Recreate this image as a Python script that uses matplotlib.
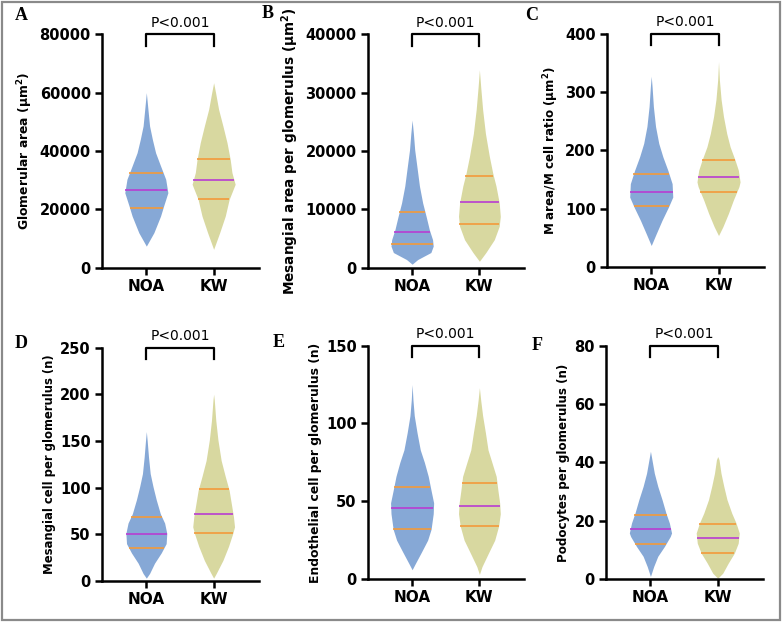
import numpy as np
import matplotlib
matplotlib.use("Agg")
import matplotlib.pyplot as plt
from matplotlib.patches import Rectangle

plt.rcParams["font.family"] = ["DejaVu Sans"]

groups = ["NOA", "KW"]
panel_letters = ["A", "B", "C", "D", "E", "F"]
ylabels = [
    "Glomerular area (μm$^\\mathbf{2}$)",
    "Mesangial area per glomerulus (μm$^\\mathbf{2}$)",
    "M area/M cell ratio (μm$^\\mathbf{2}$)",
    "Mesangial cell per glomerulus (n)",
    "Endothelial cell per glomerulus (n)",
    "Podocytes per glomerulus (n)",
]
ylabel_sizes = [8.9, 9.8, 8.6, 8.4, 8.9, 8.6]
ymax = [80000, 40000, 400, 250, 150, 80]
ysteps = [20000, 10000, 100, 50, 50, 20]

# violin outlines: levels and relative half-widths
a_noa_y = [7400, 12000, 17700, 21100, 25700, 30300, 34900, 39400, 44000, 48600, 53100, 60000]
a_noa_w = [0, .35, .66, .80, 1.0, .90, .66, .43, .28, .15, .09, 0]
a_kw_y = [6300, 12000, 17700, 23400, 28600, 32600, 37100, 42900, 48600, 54300, 60000, 63400]
a_kw_w = [0, .28, .54, .72, 1.0, .85, .77, .62, .43, .23, .09, 0]

b_noa_y = [600, 1400, 2600, 3700, 4800, 6500, 8800, 11100, 14000, 17400, 20200, 23000, 25300]
b_noa_w = [0, .26, .87, .98, .95, .80, .65, .49, .34, .22, .12, .06, 0]
b_kw_y = [1100, 2600, 4800, 7100, 8800, 11100, 14000, 16200, 19100, 23000, 27100, 31000, 33900]
b_kw_w = [0, .30, .69, .92, .97, .92, .77, .62, .46, .28, .15, .06, 0]

c_noa_y = [37, 57, 80, 103, 120, 143, 166, 189, 212, 241, 275, 309, 327]
c_noa_w = [0, .23, .50, .80, 1.0, .97, .77, .54, .35, .20, .10, .04, 0]
c_kw_y = [54, 69, 92, 115, 138, 146, 166, 183, 206, 229, 258, 287, 321, 352]
c_kw_w = [0, .20, .46, .69, .95, 1.0, .92, .77, .54, .38, .23, .12, .04, 0]

d_noa_y = [3, 8, 19, 30, 40, 51, 62, 72, 87, 101, 115, 133, 150, 160]
d_noa_w = [0, .15, .38, .69, .92, .95, .85, .65, .46, .31, .18, .10, .04, 0]
d_kw_y = [3, 8, 22, 37, 51, 58, 69, 83, 97, 112, 129, 151, 172, 194, 200]
d_kw_w = [0, .12, .43, .69, .89, .97, .92, .82, .72, .54, .35, .20, .10, .03, 0]

e_noa_y = [6, 10, 17, 25, 32, 42, 49, 57, 66, 75, 83, 94, 105, 115, 125]
e_noa_w = [0, .15, .42, .72, .88, .98, 1.0, .88, .75, .57, .38, .23, .10, .04, 0]
e_kw_y = [3, 8, 17, 25, 34, 42, 49, 57, 66, 75, 83, 94, 105, 115, 123]
e_kw_w = [0, .12, .43, .71, .89, .97, .94, .86, .78, .58, .40, .28, .15, .06, 0]

f_noa_y = [0.9, 4.3, 7.8, 11.2, 14.6, 15.8, 19.2, 22.6, 27.2, 31.8, 36.3, 40.9, 43.8]
f_noa_w = [0, .15, .34, .65, .92, .98, .88, .72, .54, .34, .18, .07, 0]
f_kw_y = [0.3, 2, 5.5, 8.9, 12.3, 15.8, 19.2, 22.6, 27.2, 31.8, 36.3, 40.9, 42]
f_kw_w = [0, .23, .49, .77, .95, 1.0, .85, .65, .43, .28, .15, .06, 0]

# quartiles [q1, median, q3] per panel, NOA then KW
quart_noa = [[20500, 26500, 32300], [4000, 6200, 9600], [104, 129, 159],
             [35, 50, 68], [32, 46, 59], [12, 17, 22]]
quart_kw = [[23400, 30000, 37300], [7500, 11200, 15800], [129, 155, 184],
            [51, 72, 99], [34, 47, 62], [9, 14, 19]]

profiles = [
    [(a_noa_y, a_noa_w), (a_kw_y, a_kw_w)],
    [(b_noa_y, b_noa_w), (b_kw_y, b_kw_w)],
    [(c_noa_y, c_noa_w), (c_kw_y, c_kw_w)],
    [(d_noa_y, d_noa_w), (d_kw_y, d_kw_w)],
    [(e_noa_y, e_noa_w), (e_kw_y, e_kw_w)],
    [(f_noa_y, f_noa_w), (f_kw_y, f_kw_w)],
]

fill_colors = ["#86A8D6", "#D8D8A0"]
quart_color = "#F39A3A"
median_color = "#B83CD2"
half_width = 0.32

# axes boxes in figure fractions
lefts = [0.130, 0.469, 0.774, 0.130, 0.469, 0.773]
bottoms = [0.571, 0.571, 0.572, 0.069, 0.072, 0.072]
width = 0.200
height = 0.374

# panel letter anchors (figure pixels from top-left)
letter_px = [(15, 15), (262, 14), (525, 15), (15, 343), (273, 342), (532, 345)]

W, H = 784, 624
fig = plt.figure(figsize=(W / 100, H / 100), dpi=100)

for i in range(6):
    ax = fig.add_axes([lefts[i], bottoms[i], width, height])
    for j, (yy, ww) in enumerate(profiles[i]):
        yy = np.asarray(yy, float)
        ww = np.asarray(ww, float) * half_width
        ax.fill_betweenx(yy, j - ww, j + ww, color=fill_colors[j], lw=0)
        qs = quart_noa[i] if j == 0 else quart_kw[i]
        for k, q in enumerate(qs):
            hw = np.interp(q, yy, ww)
            ax.plot([j - hw, j + hw], [q, q],
                    color=median_color if k == 1 else quart_color, lw=1.2,
                    solid_capstyle="butt")

    ax.set_xlim(-0.66, 1.67)
    ax.set_ylim(0, ymax[i])
    ax.set_yticks(np.arange(0, ymax[i] + 1, ysteps[i]))
    ax.set_xticks([0, 1])
    ax.set_xticklabels(groups)
    for s in ["top", "right"]:
        ax.spines[s].set_visible(False)
    for s in ["left", "bottom"]:
        ax.spines[s].set_linewidth(1.8)
    ax.tick_params(axis="both", width=1.8, length=5, pad=3)
    ax.tick_params(axis="y", labelsize=10.5)
    ax.tick_params(axis="x", labelsize=11)
    for lab in ax.get_xticklabels() + ax.get_yticklabels():
        lab.set_fontweight("bold")
    ax.set_ylabel(ylabels[i], fontsize=ylabel_sizes[i], fontweight="bold",
                  labelpad=3)

    # significance bracket
    top = ymax[i]
    drop = 0.05 * ymax[i]
    ax.plot([0, 0, 1, 1], [top - drop, top, top, top - drop], color="black",
            lw=1.6, clip_on=False)
    ax.text(0.5, top + 0.02 * ymax[i], "P<0.001", ha="center", va="bottom",
            fontsize=10)

    # panel letters
    lx, ly = letter_px[i]
    fig.text(lx / W, 1 - ly / H, panel_letters[i], fontsize=13,
             fontweight="bold", family="Liberation Serif",
             ha="left", va="center")

fig.patches.append(Rectangle((0.0025, 0.0065), 0.992, 0.990,
                             transform=fig.transFigure, fill=False,
                             edgecolor="#8A8A8A", lw=1.6))

fig.savefig("out.png", dpi=100)
